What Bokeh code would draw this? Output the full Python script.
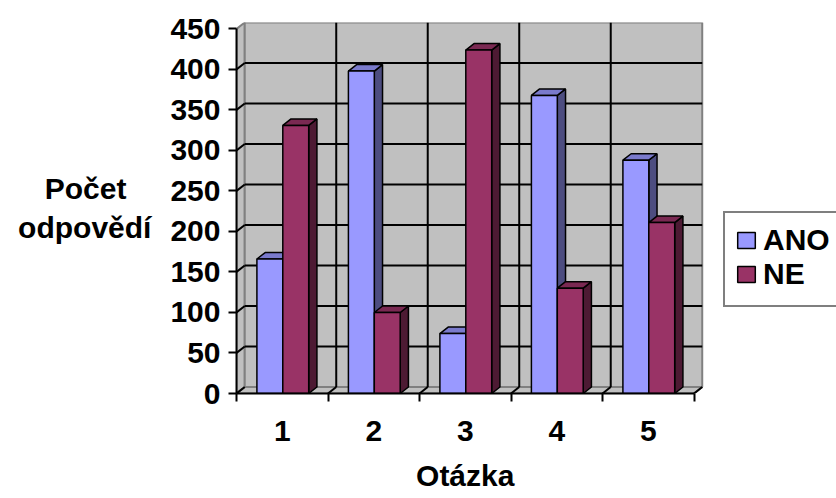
from bokeh.plotting import figure
from bokeh.models import FixedTicker, Legend, LegendItem, Range1d, LinearAxis
from bokeh.embed import file_html
from bokeh.resources import INLINE

# ---- data ----
categories = ["1", "2", "3", "4", "5"]
series_names = ["ANO", "NE"]
ano = [166, 398, 74, 368, 288]
ne = [331, 100, 424, 130, 211]
y_ticks = [0, 50, 100, 150, 200, 250, 300, 350, 400, 450]
x_title = "Otázka"
y_title = "Počet\u00a0\u00a0\u00a0\nodpovědí"

# ---- style ----
FONT = "Liberation Sans"
FS = "30px"
Y_MAX = 450
DX = 0.09      # depth (category units)
DY = 8.0       # depth (value units)
BAR_START = 0.223
BAR_W = 0.283
front_cols = ["#9999FF", "#993366"]
top_cols = ["#7A7ACC", "#7A2952"]
side_cols = ["#4D4D80", "#4D1A33"]
WALL = "#C0C0C0"
WALL_EDGE = "#808080"

n = len(categories)
p = figure(width=836, height=498,
           x_range=Range1d(0, 600 / 91.5), y_range=Range1d(0, Y_MAX + DY),
           output_backend="svg", toolbar_location=None,
           min_border_left=236, min_border_right=0,
           min_border_top=22, min_border_bottom=105)
p.grid.visible = False
p.outline_line_color = None
p.background_fill_color = "white"
p.border_fill_color = "white"

# ---- walls ----
p.patch([0, n, n + DX, DX], [0, 0, DY, DY], fill_color=WALL,
        line_color=WALL_EDGE, line_width=2)
p.patch([0, DX, DX, 0], [0, DY, Y_MAX + DY, Y_MAX], fill_color=WALL,
        line_color=WALL_EDGE, line_width=2)
p.quad(left=[DX], right=[n + DX], bottom=[DY], top=[Y_MAX + DY],
       fill_color=WALL, line_color=WALL_EDGE, line_width=2)

inner = y_ticks[1:-1]
hy = [t + DY for t in inner]
p.segment(x0=[DX] * len(hy), y0=hy, x1=[n + DX] * len(hy), y1=hy,
          line_color="black", line_width=2)
p.segment(x0=[0] * len(inner), y0=inner, x1=[DX] * len(inner), y1=hy,
          line_color="black", line_width=2)
vx = [k + DX for k in range(1, n)]
p.segment(x0=vx, y0=[DY] * len(vx), x1=vx, y1=[Y_MAX + DY] * len(vx),
          line_color="black", line_width=2)
bx = list(range(0, n + 1))
p.segment(x0=bx, y0=[0] * len(bx), x1=[b + DX for b in bx], y1=[DY] * len(bx),
          line_color="black", line_width=2)

# ---- bars ----
fronts = []
for s, vals in enumerate([ano, ne]):
    lefts = [i + BAR_START + s * BAR_W for i in range(n)]
    rights = [l + BAR_W for l in lefts]
    side_xs = [[r, r + DX, r + DX, r] for r in rights]
    side_ys = [[0, DY, v + DY, v] for v in vals]
    top_xs = [[l, r, r + DX, l + DX] for l, r in zip(lefts, rights)]
    top_ys = [[v, v, v + DY, v + DY] for v in vals]
    p.patches(side_xs, side_ys, fill_color=side_cols[s], line_color="black",
              line_width=1.5)
    p.patches(top_xs, top_ys, fill_color=top_cols[s], line_color="black",
              line_width=1.5)
    r = p.quad(left=lefts, right=rights, bottom=[0] * n, top=vals,
               fill_color=front_cols[s], line_color="black", line_width=1.5)
    fronts.append(r)

# ---- axes ----
ya = p.yaxis[0]
ya.ticker = FixedTicker(ticks=y_ticks)
ya.bounds = (0, Y_MAX)
ya.axis_line_color = "black"
ya.axis_line_width = 2
ya.major_tick_out = 8
ya.major_tick_in = 0
ya.major_tick_line_width = 2
ya.major_tick_line_color = "black"
ya.minor_tick_line_color = None
ya.major_label_standoff = 8
ya.major_label_text_font = FONT
ya.major_label_text_font_style = "bold"
ya.major_label_text_font_size = FS
ya.major_label_text_color = "black"
ya.axis_label = y_title
ya.axis_label_orientation = "horizontal"
ya.axis_label_standoff = 16
ya.axis_label_text_font = FONT
ya.axis_label_text_font_style = "bold"
ya.axis_label_text_font_size = FS
ya.axis_label_text_color = "black"

xa = p.xaxis[0]
centers = [i + 0.5 for i in range(n)]
xa.ticker = FixedTicker(ticks=centers, minor_ticks=list(range(0, n + 1)))
xa.major_label_overrides = {c: lab for c, lab in zip(centers, categories)}
xa.bounds = (0, n)
xa.axis_line_color = "black"
xa.axis_line_width = 2
xa.major_tick_out = 0
xa.major_tick_in = 0
xa.minor_tick_out = 8
xa.minor_tick_in = 0
xa.minor_tick_line_width = 2
xa.minor_tick_line_color = "black"
xa.major_label_standoff = 19
xa.major_label_text_font = FONT
xa.major_label_text_font_style = "bold"
xa.major_label_text_font_size = FS
xa.major_label_text_color = "black"

mid = n / 2
xa2 = LinearAxis(ticker=FixedTicker(ticks=[mid], minor_ticks=[]),
                 major_label_overrides={mid: x_title},
                 axis_line_color=None, major_tick_line_color=None,
                 minor_tick_line_color=None, major_tick_out=0, major_tick_in=0,
                 major_label_standoff=15,
                 major_label_text_font=FONT, major_label_text_font_style="bold",
                 major_label_text_font_size=FS, major_label_text_color="black")
p.add_layout(xa2, "below")

# ---- legend ----
legend = Legend(items=[LegendItem(label=nm, renderers=[r])
                       for nm, r in zip(series_names, fronts)],
                location=(487, 86), orientation="vertical",
                glyph_width=22, glyph_height=20, label_standoff=6,
                padding=10, spacing=0, margin=0,
                label_text_font=FONT, label_text_font_style="bold",
                label_text_font_size=FS, label_text_color="black",
                label_text_line_height=0.85,
                border_line_color="black", border_line_width=2,
                background_fill_color="white", background_fill_alpha=1)
if "title_location" in legend.properties():
    legend.title = "\u00a0"
    legend.title_location = "below"
    legend.title_text_font_size = "3px"
    legend.title_standoff = 0
p.add_layout(legend)

open("out.html", "w").write(file_html(p, INLINE))
